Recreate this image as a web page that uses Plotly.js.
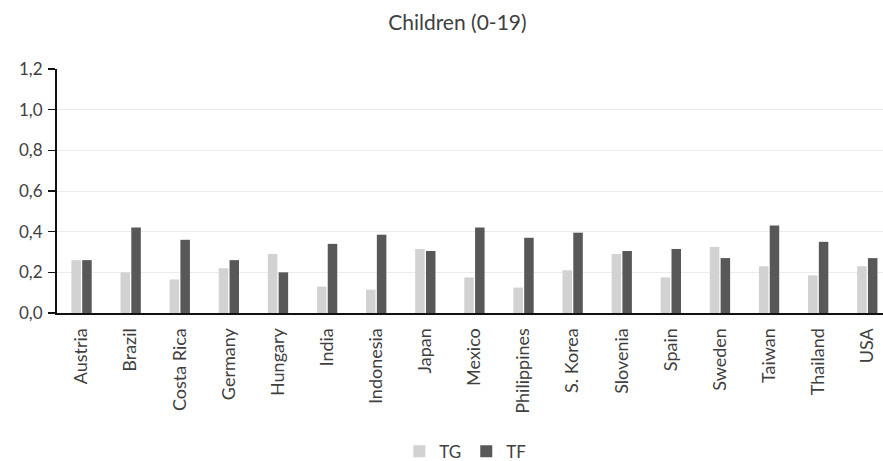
<!DOCTYPE html>
<html>
<head>
<meta charset="utf-8">
<script src="https://cdn.plot.ly/plotly-3.0.1.min.js"></script>
<style>
  html, body { margin: 0; padding: 0; background: #fff; }
  #chart { width: 883px; height: 461px; }
</style>
</head>
<body>
<div id="chart"></div>
<script>
// Countries along the x axis
const countries = ['Austria', 'Brazil', 'Costa Rica', 'Germany', 'Hungary', 'India', 'Indonesia', 'Japan',
  'Mexico', 'Philippines', 'S. Korea', 'Slovenia', 'Spain', 'Sweden', 'Taiwan', 'Thailand', 'USA'];

// Values
const tgValues = [0.26, 0.20, 0.165, 0.22, 0.29, 0.13, 0.115, 0.315,
  0.175, 0.125, 0.21, 0.29, 0.175, 0.325, 0.23, 0.185, 0.23];
const tfValues = [0.26, 0.42, 0.36, 0.26, 0.20, 0.34, 0.385, 0.305,
  0.42, 0.37, 0.395, 0.305, 0.315, 0.27, 0.43, 0.35, 0.27];

const yTicks = [0, 0.2, 0.4, 0.6, 0.8, 1.0, 1.2];

const fontFamily = 'Lato, "Open Sans", sans-serif';

let data = [
  {
    x: countries,
    y: tgValues,
    name: 'TG',
    type: 'bar',
    marker: {color: '#d2d2d2'}
  },
  {
    x: countries,
    y: tfValues,
    name: 'TF',
    type: 'bar',
    marker: {color: '#585858'}
  }
];

var layout = {
  width: 883,
  height: 461,
  separators: ',.',
  font: {family: fontFamily, color: '#444'},
  paper_bgcolor: '#fff',
  plot_bgcolor: '#fff',
  margin: {l: 57, r: 0, t: 69, b: 148},
  title: {
    text: 'Children (0-19)',
    x: 0.518, xanchor: 'center',
    y: 0.95, yanchor: 'middle',
    font: {size: 21, color: '#404040', family: fontFamily}
  },
  barmode: 'group',
  bargap: 0.56,
  bargroupgap: 0.12,
  xaxis: {
    range: [-0.5, 16.32],
    tickangle: -90,
    tickfont: {size: 18, color: '#404040'},
    ticklabelstandoff: 6,
    showline: true, linecolor: '#111', linewidth: 2,
    ticks: '', showgrid: false, zeroline: false,
    automargin: false
  },
  yaxis: {
    range: [0, 1.2],
    tickvals: yTicks,
    tickformat: '.1f',
    tickfont: {size: 17, color: '#404040'},
    showline: true, linecolor: '#111', linewidth: 2,
    ticks: 'outside', ticklen: 7, tickcolor: '#111', tickwidth: 1.5,
    ticklabelstandoff: 2,
    gridcolor: '#ececec', gridwidth: 1,
    zeroline: false,
    automargin: false
  },
  showlegend: true,
  legend: {
    orientation: 'h',
    xref: 'container', yref: 'container',
    x: 0.527, xanchor: 'center',
    y: 0.02, yanchor: 'middle',
    font: {size: 17, color: '#404040'},
    itemwidth: 30
  }
};

Plotly.newPlot('chart', data, layout, {displayModeBar: false, staticPlot: true});
</script>
</body>
</html>
